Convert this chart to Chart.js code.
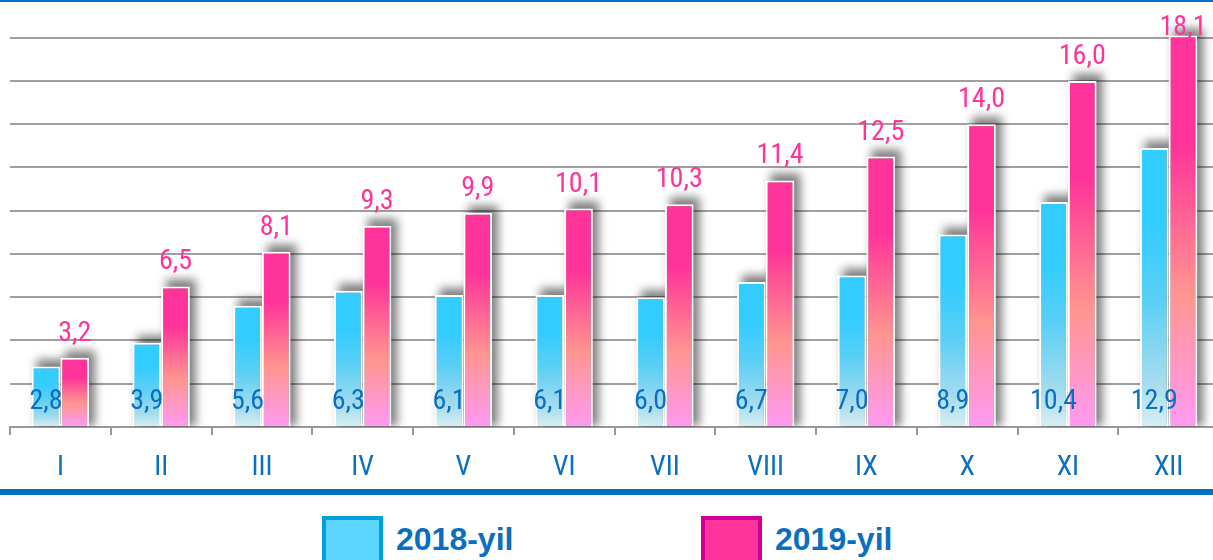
<!DOCTYPE html>
<html>
<head>
<meta charset="utf-8">
<script src="https://cdn.jsdelivr.net/npm/chart.js@4"></script>
<style>
  html, body { margin: 0; padding: 0; background: #fff; overflow: hidden; width: 1213px; height: 560px; }
  #wrap { position: absolute; left: 0; top: 0; width: 1219px; height: 489px; }
  .rule { position: absolute; left: 0; width: 1213px; background: #0070c0; }
  .key { position: absolute; top: 516px; width: 53px; height: 60px; box-sizing: content-box; }
  .keytext { position: absolute; top: 521px; font: bold 32px "Liberation Sans", Arial, sans-serif; color: #0a6fc0; line-height: 36px; }
</style>
</head>
<body>
<div class="rule" style="top:0;height:2px"></div>
<div id="wrap"><canvas id="c" width="1219" height="489"></canvas></div>
<div class="rule" style="top:489px;height:6px"></div>

<div class="key" style="left:322px;background:#5cd5ff;border:4px solid #00a0d8;"></div>
<div class="keytext" style="left:396px">2018-yil</div>
<div class="key" style="left:701px;background:#ff3399;border:4px solid #cc0099;"></div>
<div class="keytext" style="left:775px">2019-yil</div>

<script>
const months = ['I', 'II', 'III', 'IV', 'V', 'VI', 'VII', 'VIII', 'IX', 'X', 'XI', 'XII'];
const values2018 = [2.8, 3.9, 5.6, 6.3, 6.1, 6.1, 6.0, 6.7, 7.0, 8.9, 10.4, 12.9];
const values2019 = [3.2, 6.5, 8.1, 9.3, 9.9, 10.1, 10.3, 11.4, 12.5, 14.0, 16.0, 18.1];
const seriesNames = ['2018-yil', '2019-yil'];
const gridValues = [0, 2, 4, 6, 8, 10, 12, 14, 16, 18];

const NARROW = '"Liberation Sans Narrow", "Arial Narrow", "Roboto Condensed", sans-serif';

// vertical fade applied per bar, from its top down to the baseline
const blueStops = [[0, '#33ccff'], [0.28, '#33ccff'], [0.55, '#5ccff5'], [0.85, '#a8dced'], [1, '#d8eff4']];
const pinkStops = [[0, '#ff3399'], [0.28, '#ff3399'], [0.66, '#ff9590'], [1, '#ff9af2']];

function barFill(stops) {
  return (ctx) => {
    const chart = ctx.chart;
    if (!chart.chartArea || ctx.type !== 'data' || !chart.scales.y) return stops[0][1];
    const y = chart.scales.y;
    const top = y.getPixelForValue(ctx.raw);
    const bottom = y.getPixelForValue(0);
    const g = chart.ctx.createLinearGradient(0, top, 0, bottom);
    stops.forEach(([o, c]) => g.addColorStop(o, c));
    return g;
  };
}

const fmt = (v) => v.toFixed(1).replace('.', ',');

// blurred grey shadow under every bar, thrown up and to the right
const barShadow = {
  id: 'barShadow',
  beforeDatasetsDraw(chart) {
    const c = chart.ctx;
    const area = chart.chartArea;
    c.save();
    c.beginPath();
    c.rect(area.left, 0, area.right - area.left, area.bottom);
    c.clip();
    c.filter = 'blur(5px)';
    c.fillStyle = 'rgba(0,0,0,0.5)';
    chart.data.datasets.forEach((ds, di) => {
      chart.getDatasetMeta(di).data.forEach((bar) => {
        const p = bar.getProps(['x', 'y', 'base', 'width'], true);
        c.fillRect(p.x - p.width / 2 + 5, p.y - 7, p.width + 1, p.base - p.y + 7);
      });
    });
    c.restore();
  }
};

// value labels: 2018 inside the bar foot, 2019 above the bar
const valueLabels = {
  id: 'valueLabels',
  afterDatasetsDraw(chart) {
    const c = chart.ctx;
    const y = chart.scales.y;
    const zero = y.getPixelForValue(0);
    c.save();
    c.font = '28px ' + NARROW;
    c.textAlign = 'center';
    c.textBaseline = 'alphabetic';
    chart.getDatasetMeta(0).data.forEach((bar, i) => {
      c.fillStyle = '#0a6fc0';
      c.fillText(fmt(values2018[i]), bar.x, zero - 18);
    });
    chart.getDatasetMeta(1).data.forEach((bar, i) => {
      c.fillStyle = '#ff3399';
      c.fillText(fmt(values2019[i]), bar.x, Math.max(bar.y - 17, 35));
    });
    c.restore();
  }
};

new Chart(document.getElementById('c'), {
  type: 'bar',
  data: {
    labels: months,
    datasets: [
      { label: seriesNames[0], data: values2018, backgroundColor: barFill(blueStops),
        borderColor: '#ffffff', borderWidth: 2, borderSkipped: 'bottom' },
      { label: seriesNames[1], data: values2019, backgroundColor: barFill(pinkStops),
        borderColor: '#ffffff', borderWidth: 2, borderSkipped: 'bottom' }
    ]
  },
  options: {
    responsive: false,
    animation: false,
    events: [],
    layout: { padding: { left: 10, right: 0, top: 3, bottom: 0 } },
    datasets: { bar: { categoryPercentage: 0.57, barPercentage: 1 } },
    plugins: { legend: { display: false }, tooltip: { enabled: false } },
    scales: {
      x: {
        offset: true,
        grid: { display: true, drawOnChartArea: false, drawTicks: true, tickLength: 8,
                color: '#999999', lineWidth: 2, offset: true },
        border: { display: true, color: '#999999', width: 2 },
        ticks: { color: '#0a6fc0', font: { family: NARROW, size: 28 }, padding: 16, maxRotation: 0 },
        afterFit(scale) { scale.height = 62; }
      },
      y: {
        min: 0,
        max: 19.6,
        grid: { color: '#a0a0a0', lineWidth: 2, drawTicks: false },
        border: { display: false },
        ticks: { display: false },
        afterBuildTicks(scale) { scale.ticks = gridValues.map(v => ({ value: v })); },
        afterFit(scale) { scale.width = 0; }
      }
    }
  },
  plugins: [barShadow, valueLabels]
});
</script>
</body>
</html>
